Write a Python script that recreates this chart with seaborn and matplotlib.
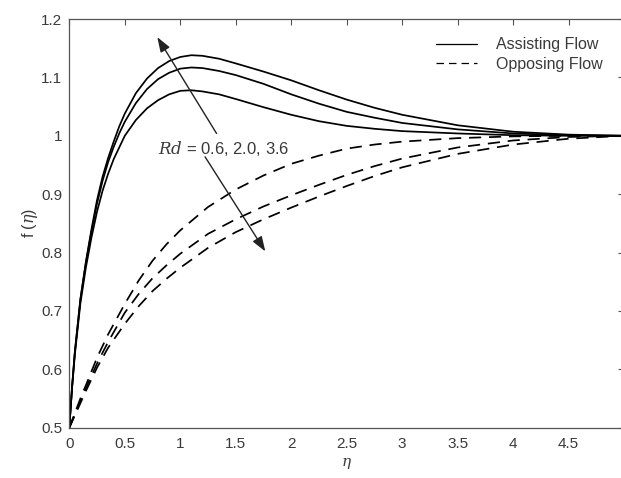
import numpy as np
import pandas as pd
import matplotlib
matplotlib.use("Agg")
import matplotlib.pyplot as plt
import seaborn as sns
from matplotlib.lines import Line2D

# ---- data ----
eta_assist = [0, 0.025, 0.05, 0.1, 0.15, 0.2, 0.25, 0.3, 0.35, 0.4, 0.45, 0.5, 0.6, 0.7,
              0.8, 0.9, 1.0, 1.1, 1.2, 1.35, 1.5, 1.75, 2.0, 2.25, 2.5, 2.75, 3.0, 3.5,
              4.0, 4.5, 5.0]
assist_top = [0.5, 0.57, 0.63, 0.72, 0.785, 0.84, 0.89, 0.93, 0.962, 0.99, 1.016, 1.038,
              1.073, 1.098, 1.116, 1.128, 1.135, 1.138, 1.137, 1.132, 1.124, 1.110, 1.095,
              1.078, 1.062, 1.048, 1.036, 1.018, 1.007, 1.002, 1.0]
assist_mid = [0.5, 0.57, 0.63, 0.72, 0.783, 0.836, 0.884, 0.923, 0.955, 0.981, 1.004, 1.024,
              1.056, 1.08, 1.097, 1.108, 1.115, 1.117, 1.116, 1.111, 1.104, 1.089, 1.071,
              1.055, 1.041, 1.031, 1.022, 1.011, 1.004, 1.001, 1.0]
assist_bot = [0.5, 0.568, 0.625, 0.713, 0.775, 0.826, 0.87, 0.906, 0.935, 0.96, 0.98, 1.0,
              1.027, 1.047, 1.061, 1.071, 1.077, 1.078, 1.076, 1.071, 1.063, 1.049, 1.036,
              1.025, 1.017, 1.012, 1.008, 1.004, 1.001, 1.0, 1.0]

eta_oppose = [0, 0.05, 0.1, 0.15, 0.25, 0.35, 0.5, 0.625, 0.75, 0.875, 1.0, 1.25, 1.5,
              1.75, 2.0, 2.25, 2.5, 2.75, 3.0, 3.5, 4.0, 4.5, 5.0]
oppose_top = [0.5, 0.525, 0.55, 0.573, 0.62, 0.66, 0.712, 0.752, 0.786, 0.814, 0.838, 0.878,
              0.908, 0.932, 0.952, 0.966, 0.978, 0.985, 0.99, 0.996, 0.999, 1.0, 1.0]
oppose_mid = [0.5, 0.523, 0.546, 0.568, 0.61, 0.647, 0.697, 0.729, 0.756, 0.778, 0.798, 0.832,
              0.857, 0.879, 0.898, 0.916, 0.933, 0.948, 0.961, 0.98, 0.992, 0.998, 1.0]
oppose_bot = [0.5, 0.521, 0.542, 0.563, 0.603, 0.637, 0.678, 0.708, 0.734, 0.755, 0.774, 0.808,
              0.835, 0.857, 0.877, 0.896, 0.914, 0.931, 0.946, 0.969, 0.985, 0.995, 1.0]

x_ticks = [0, 0.5, 1, 1.5, 2, 2.5, 3, 3.5, 4, 4.5, 5]
x_tick_labels = ["0", "0.5", "1", "1.5", "2", "2.5", "3", "3.5", "4", "4.5", "5"]
y_ticks = [0.5, 0.6, 0.7, 0.8, 0.9, 1.0, 1.1, 1.2]
y_tick_labels = ["0.5", "0.6", "0.7", "0.8", "0.9", "1", "1.1", "1.2"]
legend_labels = ["Assisting Flow", "Opposing Flow"]
annot_text = "$Rd$ = 0.6, 2.0, 3.6"

# ---- build long table ----
frames = []
for name, ys in [("a_top", assist_top), ("a_mid", assist_mid), ("a_bot", assist_bot)]:
    frames.append(pd.DataFrame({"eta": eta_assist, "f": ys, "curve": name, "flow": "assist"}))
for name, ys in [("o_top", oppose_top), ("o_mid", oppose_mid), ("o_bot", oppose_bot)]:
    frames.append(pd.DataFrame({"eta": eta_oppose, "f": ys, "curve": name, "flow": "oppose"}))
df = pd.concat(frames, ignore_index=True)

sns.set_style("white")
plt.rcParams["font.family"] = ["Liberation Sans", "DejaVu Sans"]
plt.rcParams["mathtext.fontset"] = "dejavuserif"

fig = plt.figure(figsize=(6.21, 4.78), dpi=100)
ax = fig.add_axes([0.1116, 0.1052, 0.8934, 0.8550])

txt_col = "#3a3a3a"
for name, sub in df.groupby("curve", sort=False):
    ls = "-" if sub["flow"].iloc[0] == "assist" else (0, (7, 4.5))
    sns.lineplot(data=sub, x="eta", y="f", ax=ax, color="black", lw=1.25,
                 linestyle="-", estimator=None, sort=True, legend=False)
    ax.lines[-1].set_linestyle(ls)
    ax.lines[-1].set_solid_joinstyle("round")

ax.set_xlim(0, 5)
ax.set_ylim(0.5, 1.2)
ax.set_xticks(x_ticks)
ax.set_xticklabels(x_tick_labels)
ax.set_yticks(y_ticks)
ax.set_yticklabels(y_tick_labels)
ax.tick_params(direction="in", length=4, width=0.8, top=True, right=True,
               labelsize=11, colors="#555555", labelcolor=txt_col)
ax.tick_params(axis="x", pad=7)
ax.tick_params(axis="y", pad=5)
for s in ax.spines.values():
    s.set_color("#555555")
    s.set_linewidth(0.9)

ax.set_xlabel(r"$\eta$", fontsize=11, color=txt_col, labelpad=3)
ax.set_ylabel(r"f ($\eta$)", fontsize=11.5, color=txt_col, labelpad=1)

handles = [Line2D([], [], color="black", lw=0.9, ls="-"),
           Line2D([], [], color="black", lw=0.9, ls=(0, (6, 4)))]
leg = ax.legend(handles, legend_labels, loc="upper left",
                bbox_to_anchor=(0.702, 0.922), bbox_transform=fig.transFigure,
                frameon=False, fontsize=11.5, borderpad=0, borderaxespad=0,
                handlelength=2.6, handletextpad=1.15, labelspacing=0.3)
for t in leg.get_texts():
    t.set_color(txt_col)

ax.text(1.39, 0.979, annot_text, ha="center", va="center", fontsize=12, color=txt_col,
        bbox=dict(facecolor="white", edgecolor="none", pad=1))
ax.annotate("", xy=(0.78, 1.173), xytext=(1.34, 1.0),
            arrowprops=dict(arrowstyle="-|>,head_length=0.9,head_width=0.32", color="#222222", lw=1.0))
ax.annotate("", xy=(1.78, 0.798), xytext=(1.21, 0.968),
            arrowprops=dict(arrowstyle="-|>,head_length=0.9,head_width=0.32", color="#222222", lw=1.0))

fig.savefig("out.png", dpi=100)
